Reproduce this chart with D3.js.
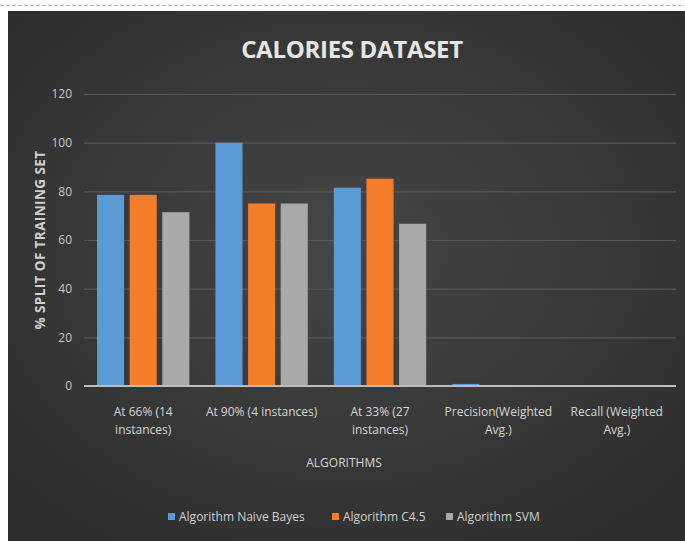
<!DOCTYPE html>
<html lang="en">
<head>
    <meta charset="UTF-8">
    <title>Calories Dataset</title>
    <script src="https://d3js.org/d3.v7.min.js"></script>
    <style>
        body { margin: 0; background: #fff; }
        text { font-family: "Open Sans", sans-serif; }
    </style>
</head>
<body>
    <svg id="chart" width="685" height="541"></svg>

    <script>
        // data
        const categories = [
            ["At 66% (14", "instances)"],
            ["At 90% (4 instances)"],
            ["At 33% (27", "instances)"],
            ["Precision(Weighted", "Avg.)"],
            ["Recall (Weighted", "Avg.)"]
        ];
        const seriesNames = ["Algorithm Naive Bayes", "Algorithm C4.5", "Algorithm SVM"];
        const naiveBayes = [78.57, 100, 81.48, 0.85, 0.3];
        const c45 = [78.57, 75, 85.19, 0.35, 0.3];
        const svmVals = [71.43, 75, 66.67, 0.3, 0.3];
        const yTicks = [0, 20, 40, 60, 80, 100, 120];
        const colors = ["#5b9bd5", "#f47d2a", "#a9a9a9"];

        const allSeries = [naiveBayes, c45, svmVals];
        const width = 685, height = 541;
        const svg = d3.select("#chart");

        // background panel with a soft glow in the middle
        const defs = svg.append("defs");
        const grad = defs.append("radialGradient")
            .attr("id", "bg").attr("cx", "50%").attr("cy", "45%").attr("r", "65%");
        grad.append("stop").attr("offset", "0%").attr("stop-color", "#464646");
        grad.append("stop").attr("offset", "100%").attr("stop-color", "#2e2e2e");

        svg.append("line")
            .attr("x1", 0).attr("x2", width).attr("y1", 5.5).attr("y2", 5.5)
            .attr("stroke", "#b8b8c0").attr("stroke-dasharray", "4,2");
        svg.append("rect")
            .attr("x", 8).attr("y", 11).attr("width", width - 8).attr("height", height - 11)
            .attr("fill", "url(#bg)");

        const margin = { left: 84, right: 9, top: 94, bottom: 155 };
        const x0 = d3.scaleBand()
            .domain(d3.range(categories.length))
            .range([margin.left, width - margin.right])
            .paddingInner(0.22).paddingOuter(0.11);
        const x1 = d3.scaleBand()
            .domain(d3.range(seriesNames.length))
            .range([0, x0.bandwidth()])
            .paddingInner(0.17);
        const y = d3.scaleLinear()
            .domain([0, 120])
            .range([height - margin.bottom, margin.top]);

        // grid + y labels
        const yAxis = d3.axisLeft(y).tickValues(yTicks).tickSize(-(width - margin.right - margin.left)).tickPadding(12);
        const gy = svg.append("g").attr("transform", `translate(${margin.left},0)`).call(yAxis);
        gy.select(".domain").remove();
        gy.selectAll(".tick line").attr("stroke", "#575757").attr("stroke-width", 1.2);
        gy.selectAll(".tick text").attr("fill", "#c8c8c8").style("font-size", "12px");

        // bars
        const groups = svg.append("g").selectAll("g")
            .data(categories)
            .join("g")
            .attr("transform", (d, i) => `translate(${x0(i)},0)`);

        groups.selectAll("rect")
            .data((d, i) => allSeries.map((s, k) => ({ k: k, v: s[i] })))
            .join("rect")
            .attr("x", d => x1(d.k))
            .attr("y", d => y(d.v))
            .attr("width", x1.bandwidth())
            .attr("height", d => y(0) - y(d.v))
            .attr("fill", d => colors[d.k]);

        // baseline
        svg.append("line")
            .attr("x1", margin.left).attr("x2", width - margin.right)
            .attr("y1", y(0)).attr("y2", y(0))
            .attr("stroke", "#bdbdbd").attr("stroke-width", 2);

        // x labels
        const xl = svg.append("g").selectAll("text")
            .data(categories)
            .join("text")
            .attr("x", (d, i) => x0(i) + x0.bandwidth() / 2)
            .attr("y", y(0) + 30)
            .attr("text-anchor", "middle")
            .attr("fill", "#d6d6d6")
            .style("font-size", "12px");
        xl.selectAll("tspan")
            .data(d => d)
            .join("tspan")
            .attr("x", function () { return d3.select(this.parentNode).attr("x"); })
            .attr("dy", (d, i) => i === 0 ? 0 : 18)
            .text(d => d);

        // titles
        svg.append("text")
            .attr("x", 352).attr("y", 58)
            .attr("text-anchor", "middle")
            .attr("fill", "#e6e6e6")
            .style("font-size", "24px").style("font-weight", "bold")
            .style("letter-spacing", "-0.3px")
            .text("CALORIES  DATASET");

        svg.append("text")
            .attr("transform", `translate(45,${(y(0) + y(120)) / 2}) rotate(-90)`)
            .attr("text-anchor", "middle")
            .attr("fill", "#cfcfcf")
            .style("font-size", "13.5px").style("font-weight", "bold")
            .style("letter-spacing", "0.4px")
            .text("% SPLIT OF TRAINING SET");

        svg.append("text")
            .attr("x", 344).attr("y", 467)
            .attr("text-anchor", "middle")
            .attr("fill", "#d6d6d6")
            .style("font-size", "12px")
            .text("ALGORITHMS");

        // legend
        const legendX = [168, 332, 446];
        const lg = svg.append("g").selectAll("g")
            .data(seriesNames)
            .join("g")
            .attr("transform", (d, i) => `translate(${legendX[i]},517)`);
        lg.append("rect")
            .attr("x", 0).attr("y", -4).attr("width", 7).attr("height", 7)
            .attr("fill", (d, i) => colors[i]);
        lg.append("text")
            .attr("x", 11).attr("y", 4)
            .attr("fill", "#d0d0d0")
            .style("font-size", "12px")
            .text(d => d);
    </script>
</body>
</html>
